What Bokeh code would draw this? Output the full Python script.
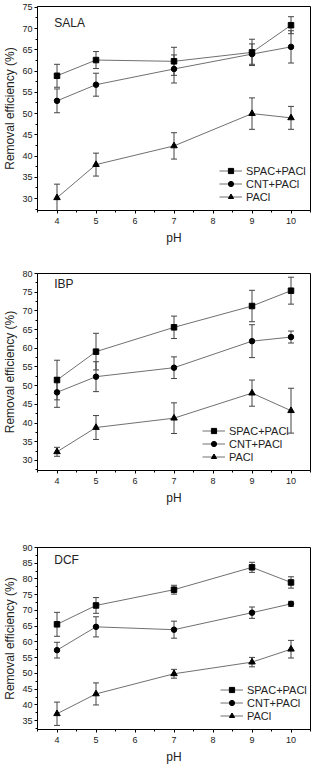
from bokeh.plotting import figure
from bokeh.models import (ColumnDataSource, Whisker, TeeHead, Legend, LegendItem,
                          SingleIntervalTicker, Range1d, Label)
from bokeh.layouts import column
from bokeh.embed import file_html
from bokeh.resources import INLINE

ph = [4, 5, 7, 9, 10]
series_names = ["SPAC+PACl", "CNT+PACl", "PACl"]

sala_spac = [58.9, 62.6, 62.3, 64.4, 70.8]
sala_spac_err = [2.7, 2.0, 3.3, 3.1, 2.0]
sala_cnt = [53.0, 56.8, 60.5, 64.0, 65.7]
sala_cnt_err = [2.8, 2.7, 3.3, 2.4, 3.8]
sala_pacl = [30.2, 38.0, 42.4, 50.0, 49.0]
sala_pacl_err = [3.2, 2.7, 3.1, 3.7, 2.7]

ibp_spac = [51.5, 59.1, 65.6, 71.3, 75.4]
ibp_spac_err = [5.3, 4.9, 3.0, 4.2, 3.6]
ibp_cnt = [48.2, 52.4, 54.8, 61.9, 63.0]
ibp_cnt_err = [4.0, 4.0, 2.9, 4.4, 1.6]
ibp_pacl = [32.3, 38.8, 41.3, 48.0, 43.3]
ibp_pacl_err = [1.2, 3.2, 4.1, 3.5, 6.0]

dcf_spac = [65.6, 71.6, 76.6, 83.7, 78.9]
dcf_spac_err = [3.8, 2.5, 1.4, 1.6, 1.8]
dcf_cnt = [57.4, 64.8, 63.9, 69.3, 72.1]
dcf_cnt_err = [2.5, 3.2, 2.7, 1.8, 0.8]
dcf_pacl = [37.2, 43.5, 49.9, 53.6, 57.7]
dcf_pacl_err = [3.7, 3.5, 1.4, 1.5, 2.8]

FONT = "Liberation Sans"
markers = ["square", "circle", "triangle"]
msizes = [5.5, 5.5, 6.5]


def make_panel(title, series, errs, yr, title_y, height, bt, bb, legend_loc):
    p = figure(width=313, height=height, output_backend="svg", toolbar_location=None,
               x_range=Range1d(3.5, 10.5), y_range=Range1d(*yr),
               min_border_left=35, min_border_right=3, min_border_top=bt, min_border_bottom=bb)
    p.xgrid.visible = False
    p.ygrid.visible = False
    p.outline_line_color = "black"
    p.outline_line_width = 1
    p.background_fill_color = "white"
    p.border_fill_color = "white"

    p.xaxis.ticker = SingleIntervalTicker(interval=1, num_minor_ticks=2)
    p.yaxis.ticker = SingleIntervalTicker(interval=5, num_minor_ticks=2)
    for ax in (p.xaxis, p.yaxis):
        ax.axis_line_color = "black"
        ax.major_tick_line_color = "black"
        ax.minor_tick_line_color = "black"
        ax.major_tick_out = 3
        ax.major_tick_in = 0
        ax.minor_tick_out = 2
        ax.minor_tick_in = 0
        ax.major_label_text_font = FONT
        ax.major_label_text_font_size = "9px"
        ax.major_label_text_color = "#222222"
        ax.axis_label_text_font = FONT
        ax.axis_label_text_font_style = "normal"
        ax.axis_label_text_color = "#222222"
    p.xaxis.axis_label = "pH"
    p.xaxis.axis_label_text_font_size = "12px"
    p.xaxis.major_label_standoff = 4
    p.xaxis.axis_label_standoff = 4
    p.yaxis.axis_label = "Removal efficiency (%)"
    p.yaxis.axis_label_text_font_size = "12px"
    p.yaxis.major_label_standoff = 2
    p.yaxis.axis_label_standoff = 2

    items = []
    for name, vals, err, mk, ms in zip(series_names, series, errs, markers, msizes):
        src = ColumnDataSource(dict(x=ph, y=vals,
                                    upper=[v + e for v, e in zip(vals, err)],
                                    lower=[v - e for v, e in zip(vals, err)]))
        w = Whisker(base="x", upper="upper", lower="lower", source=src,
                    line_color="#444444", line_width=1,
                    upper_head=TeeHead(size=6, line_color="#444444", line_width=1),
                    lower_head=TeeHead(size=6, line_color="#444444", line_width=1))
        p.add_layout(w)
        lr = p.line("x", "y", source=src, line_color="#707070", line_width=1)
        sr = p.scatter("x", "y", source=src, marker=mk, size=ms,
                       fill_color="black", line_color="black")
        items.append(LegendItem(label=name, renderers=[lr, sr]))

    leg = Legend(items=items, location=legend_loc, background_fill_alpha=0,
                 border_line_color=None, padding=0, margin=0, spacing=0,
                 label_text_font=FONT, label_text_font_size="11px",
                 label_text_color="#222222",
                 label_height=13, glyph_height=13, glyph_width=23, label_standoff=4)
    p.add_layout(leg)

    p.add_layout(Label(x=3.93, y=title_y, text=title, text_font=FONT,
                       text_font_size="12px", text_baseline="middle",
                       text_color="#222222"))
    return p


p1 = make_panel("SALA", [sala_spac, sala_cnt, sala_pacl],
                [sala_spac_err, sala_cnt_err, sala_pacl_err],
                (27.2, 75.2), 71.3, 250, 6, 40, (182, 7))
p2 = make_panel("IBP", [ibp_spac, ibp_cnt, ibp_pacl],
                [ibp_spac_err, ibp_cnt_err, ibp_pacl_err],
                (27.3, 80), 77.1, 278, 23, 58, (165, 7))
p3 = make_panel("DCF", [dcf_spac, dcf_cnt, dcf_pacl],
                [dcf_spac_err, dcf_cnt_err, dcf_pacl_err],
                (32.2, 90), 86.0, 238, 19, 31, (183, 7))

layout = column(p1, p2, p3, spacing=0)
open("out.html", "w").write(file_html(layout, INLINE))
